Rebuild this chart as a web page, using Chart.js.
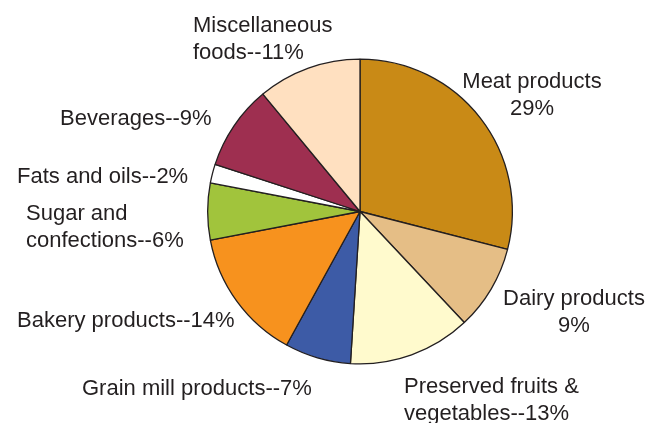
<!DOCTYPE html>
<html>
<head>
<meta charset="utf-8">
<script src="https://cdn.jsdelivr.net/npm/chart.js@4/dist/chart.umd.min.js"></script>
<style>
  html, body { margin: 0; padding: 0; background: #fff; }
  #wrap { width: 647px; height: 423px; }
</style>
</head>
<body>
<div id="wrap"><canvas id="chart-food"></canvas></div>
<script>
var categories = ["Meat products", "Dairy products", "Preserved fruits & vegetables",
    "Grain mill products", "Bakery products", "Sugar and confections",
    "Fats and oils", "Beverages", "Miscellaneous foods"];
var shares = [29, 9, 13, 7, 14, 6, 2, 9, 11];
var sliceColors = ["#C98A16", "#E5BE86", "#FFFACD", "#3D5BA6", "#F7921E",
    "#A1C43C", "#FFFFFF", "#9E2F50", "#FFE0C0"];
// text as printed beside each slice
var labelLines = [
    ["Meat products", "29%"],
    ["Dairy products", "9%"],
    ["Preserved fruits &", "vegetables--13%"],
    ["Grain mill products--7%"],
    ["Bakery products--14%"],
    ["Sugar and", "confections--6%"],
    ["Fats and oils--2%"],
    ["Beverages--9%"],
    ["Miscellaneous", "foods--11%"]
];

// where each label sits (x, first baseline, alignment)
var labelPos = [
    {x: 532, y: 88, align: "center"},
    {x: 574, y: 305, align: "center"},
    {x: 404, y: 393, align: "left"},
    {x: 82, y: 395, align: "left"},
    {x: 17, y: 327, align: "left"},
    {x: 26, y: 220, align: "left"},
    {x: 17, y: 183, align: "left"},
    {x: 60, y: 125, align: "left"},
    {x: 193, y: 32, align: "left"}
];

var sliceLabels = {
    id: "sliceLabels",
    afterDraw: function(chart) {
        var ctx = chart.ctx;
        ctx.save();
        ctx.fillStyle = "#231F20";
        ctx.font = "22px 'Liberation Sans', Arial, sans-serif";
        ctx.textBaseline = "alphabetic";
        labelLines.forEach(function(lines, i) {
            var p = labelPos[i];
            ctx.textAlign = p.align;
            lines.forEach(function(t, j) {
                ctx.fillText(t, p.x, p.y + j * 26.6);
            });
        });
        ctx.restore();
    }
};

var ctx = document.getElementById("chart-food");
var foodPie = new Chart(ctx, {
    type: "pie",
    data: {
        labels: categories,
        datasets: [{
            data: shares,
            backgroundColor: sliceColors,
            borderColor: "#231F20",
            borderWidth: 1.3
        }]
    },
    options: {
        responsive: true,
        maintainAspectRatio: false,
        animation: false,
        layout: { padding: { top: 58, bottom: 58, left: 207, right: 134 } },
        plugins: {
            legend: { display: false },
            tooltip: { enabled: false }
        }
    },
    plugins: [sliceLabels]
});
</script>
</body>
</html>
